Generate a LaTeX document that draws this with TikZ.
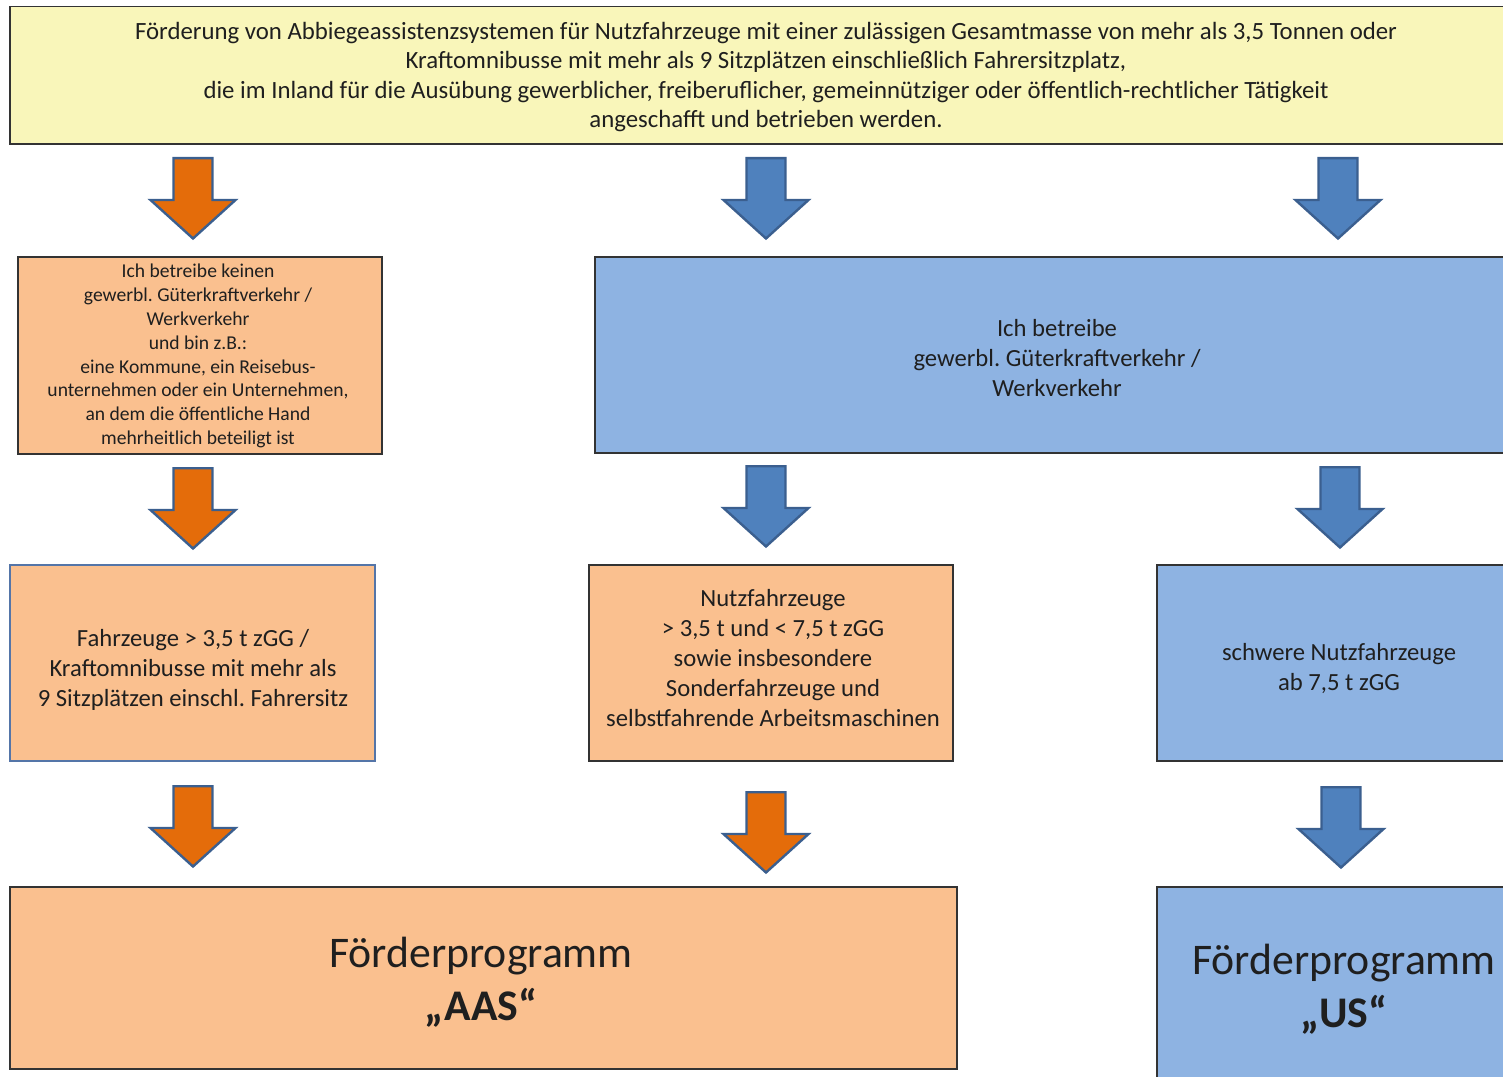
\documentclass[tikz,border=0pt]{standalone}
\usepackage{fontspec}
\setmainfont{Carlito}
\usetikzlibrary{fit}
\frenchspacing
\definecolor{yel}{HTML}{F9F6BA}
\definecolor{ora}{HTML}{FAC08F}
\definecolor{blu}{HTML}{8EB3E2}
\definecolor{arrO}{HTML}{E46C0A}
\definecolor{arrB}{HTML}{4F81BD}
\definecolor{arrEdge}{HTML}{3B5F8F}
\definecolor{edgeD}{HTML}{333333}
\definecolor{edgeB}{HTML}{5475A8}
\newcommand\blockarr[3]{%
  \path[barrow,fill=#3] ({#1-19.5},{#2+1.2}) -- ({#1+19.5},{#2+1.2}) -- ({#1+19.5},{#2+43}) -- ({#1+42.5},{#2+43}) -- (#1,{#2+81.5}) -- ({#1-42.5},{#2+43}) -- ({#1-19.5},{#2+43}) -- cycle;}
\begin{document}
\begin{tikzpicture}[x=0.75pt,y=-0.75pt,
  box/.style={draw=edgeD,line width=1.1pt,inner sep=0pt,outer sep=0pt},
  txt/.style={align=center,inner sep=0pt,text=black!88},
  normal/.style={font=\fontsize{18.5pt}{22.5pt}\selectfont},
  small/.style={font=\fontsize{14.7pt}{17.9pt}\selectfont},
  big/.style={font=\fontsize{32.8pt}{40pt}\selectfont},
  barrow/.style={draw=arrEdge,line width=1.8pt,line join=miter}]
\useasboundingbox (0,0) rectangle (1503,1077);
% boxes
\node[box,fill=yel,fit={(10,6.5) (1522,144)}] (top) {};
\node[box,fill=ora,fit={(18,257) (382,454)}] (b1) {};
\node[box,fill=blu,fit={(595,257) (1521,453)}] (b2) {};
\node[box,fill=ora,draw=edgeB,fit={(10,565) (375,761)}] (c1) {};
\node[box,fill=ora,fit={(589,565) (953,761)}] (c2) {};
\node[box,fill=blu,fit={(1157,565) (1521,761)}] (c3) {};
\node[box,fill=ora,fit={(10,887) (957,1069)}] (d1) {};
\node[box,fill=blu,fit={(1157,887) (1521,1090)}] (d2) {};
% texts
\node[txt,font=\fontsize{18.6pt}{22.1pt}\selectfont] (ttop) at (766,77) {Förderung von Abbiegeassistenzsystemen für Nutzfahrzeuge mit einer zulässigen Gesamtmasse von mehr als 3,5 Tonnen oder\\Kraftomnibusse mit mehr als 9 Sitzplätzen einschließlich Fahrersitzplatz,\\die im Inland für die Ausübung gewerblicher, freiberuflicher, gemeinnütziger oder öffentlich-rechtlicher Tätigkeit\\angeschafft und betrieben werden.};
\node[txt,small] (tb1) at (198,356) {Ich betreibe keinen\\gewerbl. Güterkraftverkehr /\\Werkverkehr\\und bin z.B.:\\eine Kommune, ein Reisebus-\\unternehmen oder ein Unternehmen,\\an dem die öffentliche Hand\\mehrheitlich beteiligt ist};
\node[txt,normal] (tb2) at (1057,358) {Ich betreibe\\gewerbl. Güterkraftverkehr /\\Werkverkehr};
\node[txt,normal] (tc1) at (193,670) {Fahrzeuge > 3,5 t zGG /\\Kraftomnibusse mit mehr als\\9 Sitzplätzen einschl. Fahrersitz};
\node[txt,normal] (tc2) at (773,658) {Nutzfahrzeuge\\> 3,5 t und < 7,5 t zGG\\sowie insbesondere\\Sonderfahrzeuge und\\selbstfahrende Arbeitsmaschinen};
\node[txt,normal] (tc3) at (1339,669) {schwere Nutzfahrzeuge\\ab 7,5 t zGG};
\node[txt,big] (td1) at (481,982) {Förderprogramm\\\textbf{„AAS“}};
\node[txt,big] (td2) at (1344,989) {Förderprogramm\\\textbf{„US“}};
% block arrows
\blockarr{193}{157}{arrO}
\blockarr{766}{157}{arrB}
\blockarr{1338}{157}{arrB}
\blockarr{193}{467}{arrO}
\blockarr{766}{465}{arrB}
\blockarr{1340}{466}{arrB}
\blockarr{193}{785}{arrO}
\blockarr{766}{791}{arrO}
\blockarr{1341}{786}{arrB}
\end{tikzpicture}
\end{document}
